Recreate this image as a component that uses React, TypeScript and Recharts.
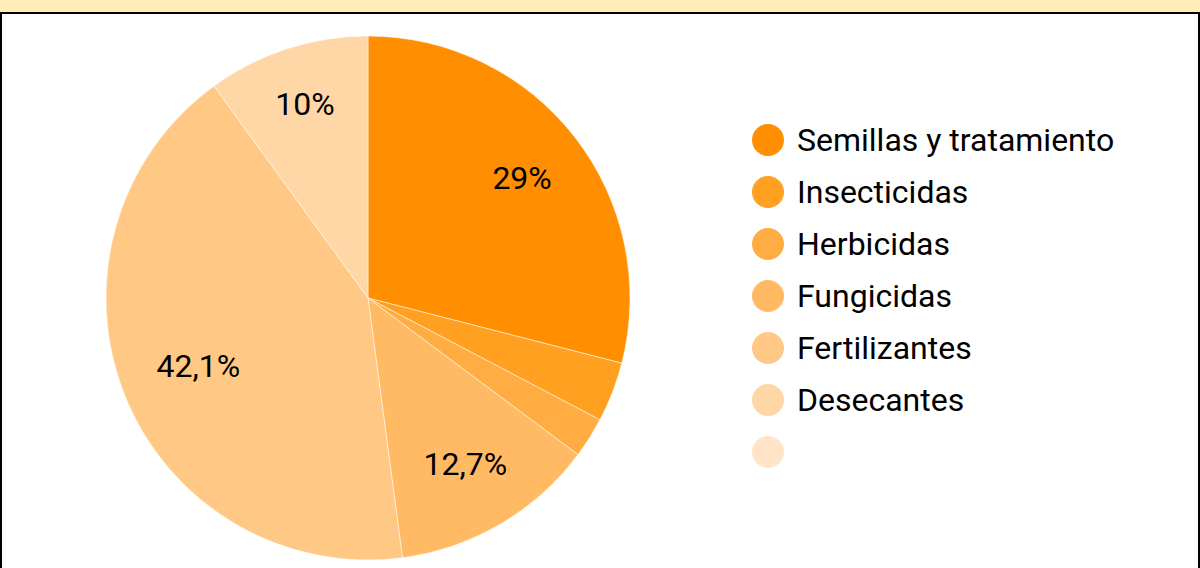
import { PieChart, Pie, Cell, Legend } from 'recharts';

const categorias = ['Semillas y tratamiento', 'Insecticidas', 'Herbicidas', 'Fungicidas', 'Fertilizantes', 'Desecantes', ''];
const porcentajes = [29, 3.7, 2.5, 12.7, 42.1, 10, 0];
const colores = ['#FF8F00', '#FFA021', '#FFAD42', '#FFBA63', '#FFC885', '#FFD6A6', '#FFE4C7'];

const data = categorias.map((name, i) => ({ name, value: porcentajes[i] }));

const RAD = Math.PI / 180;

let ctx: CanvasRenderingContext2D | null = null;
const medir = (txt: string) => {
  if (!ctx && typeof document !== 'undefined') ctx = document.createElement('canvas').getContext('2d');
  if (!ctx) return txt.length * 17;
  ctx.font = '32px Roboto';
  return ctx.measureText(txt).width;
};

// la esquina exterior de la etiqueta queda a un radio fijo
const renderLabel = (props: any) => {
  const { cx, cy, midAngle, outerRadius, value } = props;
  if (value < 5) return null;
  const txt = `${String(value).replace('.', ',')}%`;
  const hw = medir(txt) / 2;
  const hh = 12;
  const ux = Math.cos(-midAngle * RAD);
  const uy = Math.sin(-midAngle * RAD);
  const D = outerRadius * 0.8626;
  const b = Math.abs(ux) * hw + Math.abs(uy) * hh;
  const c = hw * hw + hh * hh - D * D;
  const t = -b + Math.sqrt(b * b - c);
  return (
    <text x={cx + t * ux} y={cy + t * uy} fill="#000" textAnchor="middle" dominantBaseline="central" fontSize={32} fontFamily="Roboto">
      {txt}
    </text>
  );
};

const renderLegend = () => (
  <div style={{ fontFamily: 'Roboto', fontSize: 32, color: '#000' }}>
    {data.map((d, i) => (
      <div key={i} style={{ display: 'flex', alignItems: 'center', height: 52 }}>
        <span style={{ display: 'inline-block', flex: 'none', width: 32, height: 32, borderRadius: 16, background: colores[i] }} />
        <span style={{ marginLeft: 13, whiteSpace: 'nowrap' }}>{d.name}</span>
      </div>
    ))}
  </div>
);

export default function App() {
  return (
    <div style={{ position: 'absolute', left: 0, top: 0, width: 1200, height: 568, background: '#FFEDB5', overflow: 'hidden' }}>
      <div style={{ position: 'absolute', left: 0, top: 12, width: 1196, height: 600, background: '#fff', border: '2px solid #000' }} />
      <div style={{ position: 'absolute', left: 0, top: 0 }}>
        <PieChart width={1200} height={568} margin={{ top: 0, right: 0, bottom: 0, left: 0 }}>
          <Pie
            data={data}
            dataKey="value"
            nameKey="name"
            cx={368}
            cy={298}
            outerRadius={262}
            startAngle={90}
            endAngle={-270}
            stroke="#fff"
            strokeWidth={0.5}
            label={renderLabel}
            labelLine={false}
            isAnimationActive={false}
          >
            {data.map((_, i) => (
              <Cell key={i} fill={colores[i]} />
            ))}
          </Pie>
          <Legend content={renderLegend} wrapperStyle={{ position: 'absolute', left: 752, top: 114, width: 440 }} />
        </PieChart>
      </div>
    </div>
  );
}
